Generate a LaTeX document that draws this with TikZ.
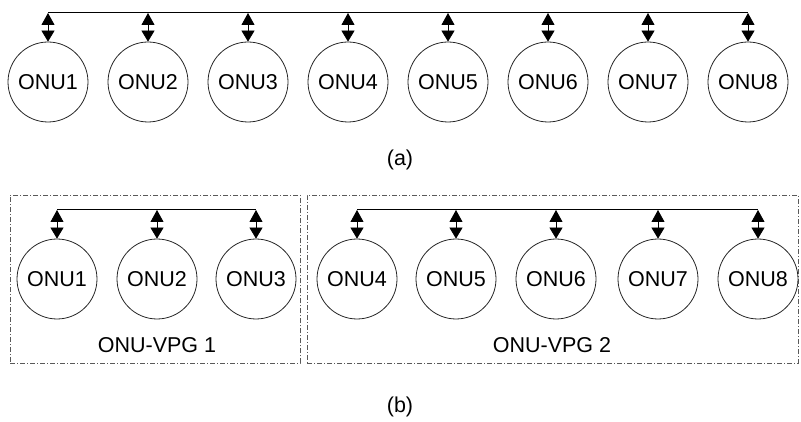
\documentclass[tikz,border=0pt]{standalone}
\usepackage{fontspec}
\setmainfont{Liberation Sans}
\usetikzlibrary{arrows.meta}
\begin{document}
\begin{tikzpicture}[x=1pt,y=-1pt,
  onu/.style={circle,draw=black!85,line width=0.8pt,minimum size=80pt,inner sep=0pt,font=\fontsize{21.5}{25}\selectfont},
  bus/.style={draw=black,line width=1pt},
  link/.style={line width=0.8pt,{Triangle[length=12pt,width=13pt]}-{Triangle[length=11pt,width=13pt]}},
  grp/.style={draw=black!65,line width=0.8pt,dash pattern=on 5pt off 2pt on 1pt off 2pt},
  lbl/.style={font=\fontsize{21.5}{25}\selectfont}]
\useasboundingbox (0,0) rectangle (801,422);
% (a)
\foreach \i in {1,...,8}{
  \node[onu] (a\i) at ({48+100*(\i-1)},82) {ONU\i};
  \coordinate (ta\i) at ({48+100*(\i-1)},13);
  \draw[link] (ta\i) -- (a\i.north);
}
\draw[bus] (ta1) -- (ta8);
\node[lbl] (capa) at (400,160) {(a)};
% (b)
\node[grp,minimum width=290pt,minimum height=168pt,inner sep=0pt] (g1) at (155,279) {};
\node[grp,minimum width=491pt,minimum height=168pt,inner sep=0pt] (g2) at (552.5,279) {};
\foreach \i/\x in {1/57,2/157,3/256,4/357,5/456,6/556,7/658,8/758}{
  \node[onu] (b\i) at (\x,279) {ONU\i};
  \coordinate (tb\i) at (\x,210);
  \draw[link] (tb\i) -- (b\i.north);
}
\draw[bus] (tb1) -- (tb3);
\draw[bus] (tb4) -- (tb8);
\node[lbl] (l1) at (157,345) {ONU-VPG 1};
\node[lbl] (l2) at (552,345) {ONU-VPG 2};
\node[lbl] (capb) at (400,407) {(b)};
\end{tikzpicture}
\end{document}
